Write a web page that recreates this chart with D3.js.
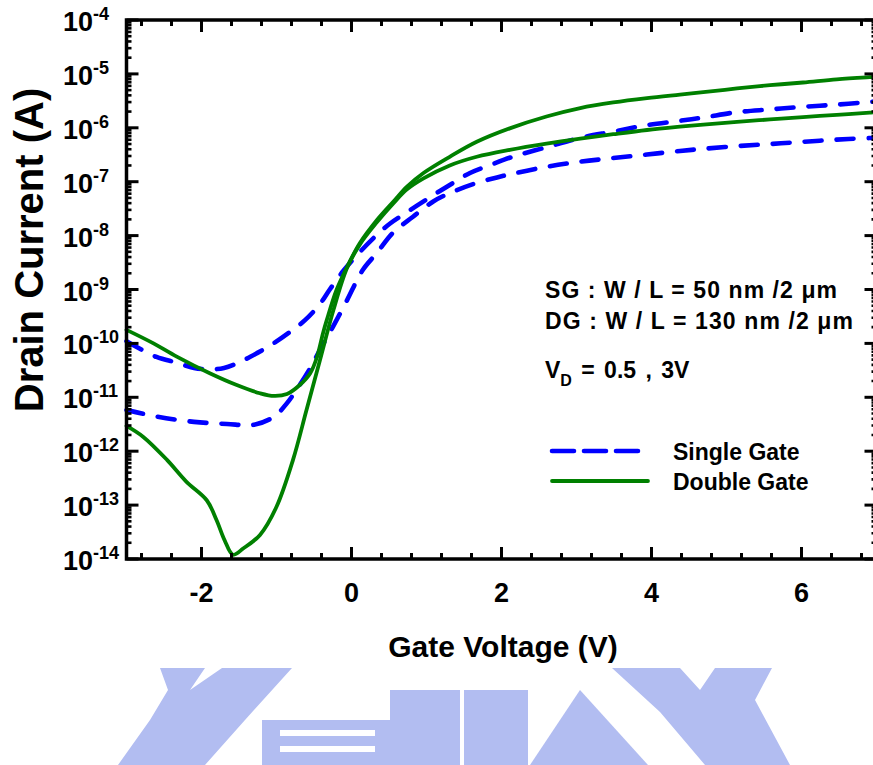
<!DOCTYPE html>
<html><head><meta charset="utf-8">
<script src="https://cdn.jsdelivr.net/npm/d3@7"></script>
<style>
body{margin:0;background:#fff;}
svg text{font-family:"Liberation Sans",Arial,sans-serif;font-weight:bold;fill:#000;}
</style>
</head><body>
<svg id="chart" width="873" height="765"></svg>
<script>
// ---- data (gate voltage in V, drain current in A) ----
const sgHighVg = [-3.0,-2.6,-2.33,-2.1,-1.89,-1.7,-1.49,-1.26,-1.03,-0.82,-0.62,-0.42,-0.29,-0.11,0.07,0.29,0.51,0.78,1.05,1.31,1.58,1.85,2.15,2.61,3.05,3.49,3.94,4.38,4.69,5.14,5.58,6.02,6.47,6.91,7.0];
const sgHighId = [1.10e-10,5.6e-11,4.4e-11,3.5e-11,3.3e-11,3.5e-11,4.5e-11,6.6e-11,1.02e-10,1.63e-10,2.7e-10,5.4e-10,1.0e-9,2.2e-9,4.3e-9,8.9e-9,1.66e-8,2.95e-8,5.2e-8,8.7e-8,1.45e-7,2.04e-7,2.9e-7,4.4e-7,6.5e-7,8.5e-7,1.12e-6,1.35e-6,1.55e-6,1.95e-6,2.19e-6,2.45e-6,2.69e-6,3.02e-6,3.09e-6];

const sgLowVg = [-3.0,-2.6,-2.1,-1.66,-1.30,-1.03,-0.86,-0.69,-0.55,-0.42,-0.25,-0.06,0.15,0.34,0.55,0.82,1.09,1.35,1.67,1.94,2.15,2.61,3.05,3.49,3.94,4.38,4.69,5.14,5.58,6.02,6.47,6.91,7.0];
const sgLowId = [5.8e-12,4.4e-12,3.5e-12,3.2e-12,3.1e-12,4.4e-12,7.8e-12,1.70e-11,3.5e-11,7.6e-11,2.0e-10,6.3e-10,2.3e-9,4.8e-9,1.12e-8,2.24e-8,4.3e-8,6.5e-8,9.5e-8,1.2e-7,1.41e-7,1.90e-7,2.35e-7,2.75e-7,3.2e-7,3.72e-7,4.07e-7,4.57e-7,5.0e-7,5.5e-7,6.03e-7,6.46e-7,6.53e-7];

const dgHighVg = [-3.0,-2.64,-2.33,-1.89,-1.53,-1.22,-1.03,-0.86,-0.69,-0.55,-0.46,-0.38,-0.33,-0.20,-0.06,0.11,0.34,0.56,0.74,0.96,1.31,1.67,2.11,2.60,3.05,3.49,3.94,4.38,4.69,5.14,5.58,6.02,6.47,6.91,7.0];
const dgHighId = [1.78e-10,1.0e-10,5.7e-11,2.8e-11,1.69e-11,1.19e-11,1.06e-11,1.15e-11,1.69e-11,2.8e-11,5.6e-11,1.55e-10,2.7e-10,9.8e-10,2.6e-9,7.2e-9,1.95e-8,4.3e-8,8.1e-8,1.45e-7,2.9e-7,5.5e-7,9.77e-7,1.62e-6,2.32e-6,2.95e-6,3.55e-6,4.12e-6,4.57e-6,5.37e-6,6.17e-6,6.92e-6,7.94e-6,8.71e-6,8.85e-6];

const dgLowVg = [-3.0,-2.78,-2.46,-2.20,-1.93,-1.80,-1.69,-1.58,-1.44,-1.22,-1.00,-0.78,-0.60,-0.42,-0.24,-0.06,0.11,0.34,0.56,0.74,0.96,1.31,1.67,2.11,2.60,3.05,3.49,3.94,4.38,4.69,5.14,5.58,6.02,6.47,6.91,7.0];
const dgLowId = [2.95e-12,1.86e-12,6.9e-13,2.7e-13,1.23e-13,5.3e-14,2.2e-14,1.2e-14,1.58e-14,2.8e-14,9.3e-14,6.9e-13,5.8e-12,4.9e-11,4.2e-10,2.5e-9,6.8e-9,1.78e-8,4.0e-8,7.2e-8,1.15e-7,2.0e-7,2.9e-7,3.9e-7,5.1e-7,6.3e-7,7.6e-7,9.1e-7,1.05e-6,1.15e-6,1.29e-6,1.43e-6,1.58e-6,1.74e-6,1.91e-6,1.95e-6];

const xTickValues = [-2,0,2,4,6];
const yTickExponents = [-4,-5,-6,-7,-8,-9,-10,-11,-12,-13,-14];
const annotationLines = ["SG : W / L = 50 nm /2 \u03bcm","DG : W / L = 130 nm /2 \u03bcm"];
const legendLabels = ["Single Gate","Double Gate"];

// ---- layout ----
const svg = d3.select("#chart");
const x = d3.scaleLinear().domain([-3,7]).range([126.5,876.5]);
const y = d3.scaleLog().domain([1e-14,1e-4]).range([559,20]);

// ---- watermark (light background logo) ----
const wm = svg.append("g").attr("fill","#b2bdf1");
const polys = [
  [[160,668],[205,668],[190,690],[222,668],[292,668],[245,720],[205,765],[118,765],[150,720],[168,690]],
  [[612,668],[680,668],[700,690],[715,668],[772,668],[755,700],[790,765],[705,765],[660,712]],
  [[530,765],[580,690],[648,765]]
];
polys.forEach(p=>wm.append("polygon").attr("points",p.map(d=>d.join(",")).join(" ")));
wm.append("rect").attr("x",262).attr("y",720).attr("width",128).attr("height",45);
wm.append("rect").attr("x",390).attr("y",690).attr("width",70).attr("height",75);
wm.append("rect").attr("x",464).attr("y",690).attr("width",64).attr("height",75);
const wmw = svg.append("g").attr("fill","#fff");
wmw.append("rect").attr("x",280).attr("y",730).attr("width",95).attr("height",6);
wmw.append("rect").attr("x",280).attr("y",746).attr("width",95).attr("height",6);

// ---- curves ----
const line = d3.line().x(d=>x(d[0])).y(d=>y(d[1])).curve(d3.curveCatmullRom.alpha(0.5));
const series = [
  {vg:sgHighVg, id:sgHighId, color:"#0000ff", dash:"17,15", w:4.6},
  {vg:sgLowVg,  id:sgLowId,  color:"#0000ff", dash:"17,15", w:4.6},
  {vg:dgHighVg, id:dgHighId, color:"#008000", dash:null, w:3.8},
  {vg:dgLowVg,  id:dgLowId,  color:"#008000", dash:null, w:3.8}
];
const plot = svg.append("g");
series.forEach(s=>{
  plot.append("path")
    .datum(s.vg.map((v,i)=>[v,s.id[i]]))
    .attr("d",line)
    .attr("fill","none").attr("stroke",s.color).attr("stroke-width",s.w)
    .attr("stroke-linecap","round").attr("stroke-linejoin","round")
    .attr("stroke-dasharray",s.dash);
});

// ---- frame & ticks ----
const ax = svg.append("g").attr("stroke","#000");
const x0=x.range()[0], x1=x.range()[1], yb=y.range()[0], yt=y.range()[1];
const xMinor = d3.range(-2.8,7,0.4).filter(v=>Math.abs(v/2-Math.round(v/2))>0.01);
xTickValues.forEach(v=>{
  ax.append("line").attr("x1",x(v)).attr("x2",x(v)).attr("y1",yb).attr("y2",yb-12).attr("stroke-width",3);
  ax.append("line").attr("x1",x(v)).attr("x2",x(v)).attr("y1",yt).attr("y2",yt+12).attr("stroke-width",3);
});
xMinor.forEach(v=>{
  ax.append("line").attr("x1",x(v)).attr("x2",x(v)).attr("y1",yb).attr("y2",yb-6).attr("stroke-width",3);
  ax.append("line").attr("x1",x(v)).attr("x2",x(v)).attr("y1",yt).attr("y2",yt+6).attr("stroke-width",3);
});
yTickExponents.forEach(e=>{
  const yy=y(Math.pow(10,e));
  ax.append("line").attr("x1",x0).attr("x2",x0+12).attr("y1",yy).attr("y2",yy).attr("stroke-width",3);
  ax.append("line").attr("x1",x1).attr("x2",x1-12).attr("y1",yy).attr("y2",yy).attr("stroke-width",3);
  if(e>-14){
    for(let m=2;m<=9;m++){
      const ym=y(m*Math.pow(10,e-1));
      ax.append("line").attr("x1",x0).attr("x2",x0+5).attr("y1",ym).attr("y2",ym).attr("stroke-width",2.6);
      ax.append("line").attr("x1",x1).attr("x2",x1-5).attr("y1",ym).attr("y2",ym).attr("stroke-width",2.6);
    }
  }
});
ax.append("rect").attr("x",x0).attr("y",yt).attr("width",x1-x0).attr("height",yb-yt)
  .attr("fill","none").attr("stroke-width",3.5);

// ---- tick labels ----
xTickValues.forEach(v=>{
  svg.append("text").attr("x",x(v)).attr("y",602).attr("text-anchor","middle")
    .attr("font-size",27).text(v<0?"-"+Math.abs(v):String(v));
});
yTickExponents.forEach(e=>{
  const yy=y(Math.pow(10,e));
  const t=svg.append("text").attr("x",63).attr("y",yy+11).attr("font-size",27);
  t.append("tspan").text("10");
  t.append("tspan").attr("dy",-11).attr("font-size",18).text(String(e));
});

// ---- axis titles ----
svg.append("text").attr("x",503).attr("y",657).attr("text-anchor","middle")
  .attr("font-size",30).text("Gate Voltage (V)");
svg.append("text").attr("transform","translate(43,250) rotate(-90)").attr("text-anchor","middle")
  .attr("font-size",40).text("Drain Current (A)");

// ---- annotations ----
const annLen=[292,308];
annotationLines.forEach((s,i)=>{
  svg.append("text").attr("x",545).attr("y",298+i*31).attr("font-size",23)
    .attr("textLength",annLen[i]).attr("lengthAdjust","spacing").text(s);
});
const vd=svg.append("text").attr("x",545).attr("y",378).attr("font-size",23).attr("word-spacing",3);
vd.append("tspan").text("V");
vd.append("tspan").attr("dy",8).attr("font-size",16).text("D");
vd.append("tspan").attr("dy",-8).text(" = 0.5 , 3V");

// ---- legend ----
const leg=[{y:451,color:"#0000ff",dash:"17,15",w:4.6},{y:481,color:"#008000",dash:null,w:3.8}];
leg.forEach((l,i)=>{
  svg.append("line").attr("x1",552).attr("x2",i===0?638:648).attr("y1",l.y).attr("y2",l.y)
    .attr("stroke",l.color).attr("stroke-width",l.w).attr("stroke-linecap","round")
    .attr("stroke-dasharray",l.dash?"22,10":null);
  svg.append("text").attr("x",673).attr("y",l.y+9).attr("font-size",23).text(legendLabels[i]);
});
</script>
</body></html>
